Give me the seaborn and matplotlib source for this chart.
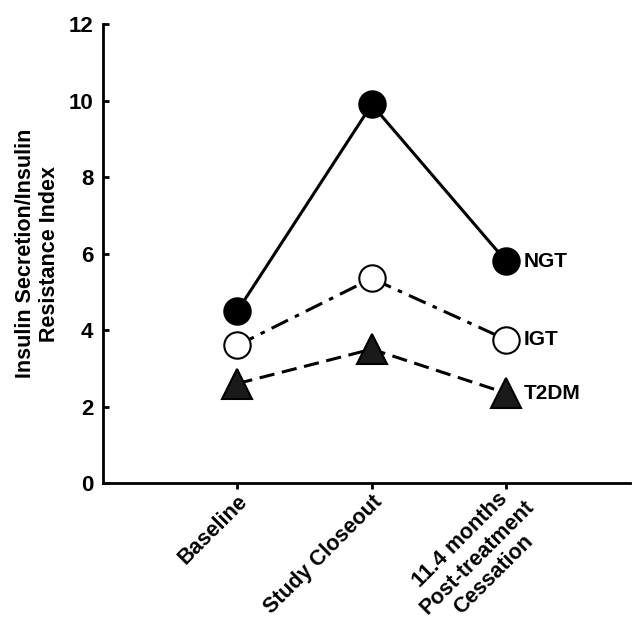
import seaborn as sns
import matplotlib.pyplot as plt
import matplotlib.transforms as mtransforms
import pandas as pd

timepoints = ['Baseline', 'Study Closeout', '11.4 months\nPost-treatment\nCessation']
groups = ['NGT', 'IGT', 'T2DM']
ngt = [4.5, 9.9, 5.8]
igt = [3.6, 5.35, 3.75]
t2dm = [2.6, 3.5, 2.35]

sns.set_style('ticks')
plt.rcParams['font.family'] = ['Liberation Sans', 'DejaVu Sans']
plt.rcParams['font.weight'] = 'bold'

rows = []
for g, vals in zip(groups, [ngt, igt, t2dm]):
    for i, v in enumerate(vals):
        rows.append({'group': g, 'x': i + 1, 'value': v})
df = pd.DataFrame(rows)

fig = plt.figure(figsize=(6.4, 6.2), dpi=100)
ax = fig.add_axes([0.161, 0.221, 0.823, 0.74])

styles = {
    'NGT': dict(ls='-', marker='o', mfc='black', ms=19),
    'IGT': dict(ls=(0, (6, 2.5, 1.5, 2.5)), marker='o', mfc='white', ms=19),
    'T2DM': dict(ls=(0, (5, 2.5)), marker='^', mfc='#1a1a1a', ms=21),
}
for g in groups:
    sub = df[df['group'] == g]
    st = styles[g]
    sns.lineplot(data=sub, x='x', y='value', ax=ax, color='black', lw=2.2,
                 linestyle=st['ls'], marker=st['marker'], markersize=st['ms'],
                 markerfacecolor=st['mfc'], markeredgecolor='black',
                 markeredgewidth=1.5, legend=False)
    last = sub.iloc[-1]
    ax.text(last['x'] + 0.13, last['value'], g, fontsize=15, fontweight='bold',
            va='center', ha='left', color='black')

ax.set_xlim(0, 3.92)
ax.set_ylim(0, 12)
ax.set_yticks([0, 2, 4, 6, 8, 10, 12])
ax.set_xticks([1, 2, 3])
ax.tick_params(axis='y', labelsize=16, width=2, length=4, direction='in',
               pad=7, colors='black')
ax.tick_params(axis='x', width=2, length=4, direction='out', pad=2,
               colors='black')
ax.set_xticklabels(timepoints, rotation=45, ha='right', rotation_mode='anchor',
                   fontsize=15.5, fontweight='bold', multialignment='center',
                   color='black')
for lab in ax.get_yticklabels():
    lab.set_fontweight('bold')
ax.set_xlabel('')
ax.set_ylabel('Insulin Secretion/Insulin\nResistance Index', fontsize=15.5,
              fontweight='bold', labelpad=6, color='black')
sns.despine(ax=ax)
ax.spines['left'].set_linewidth(2)
ax.spines['bottom'].set_linewidth(2)
ax.spines['left'].set_color('black')
ax.spines['bottom'].set_color('black')

# the three-line label sits with its first line ending at the tick
lab3 = ax.get_xticklabels()[2]
lab3.set_transform(lab3.get_transform() +
                   mtransforms.ScaledTranslation(0.0, 0.12, fig.dpi_scale_trans))

fig.savefig('out.png', dpi=100)
